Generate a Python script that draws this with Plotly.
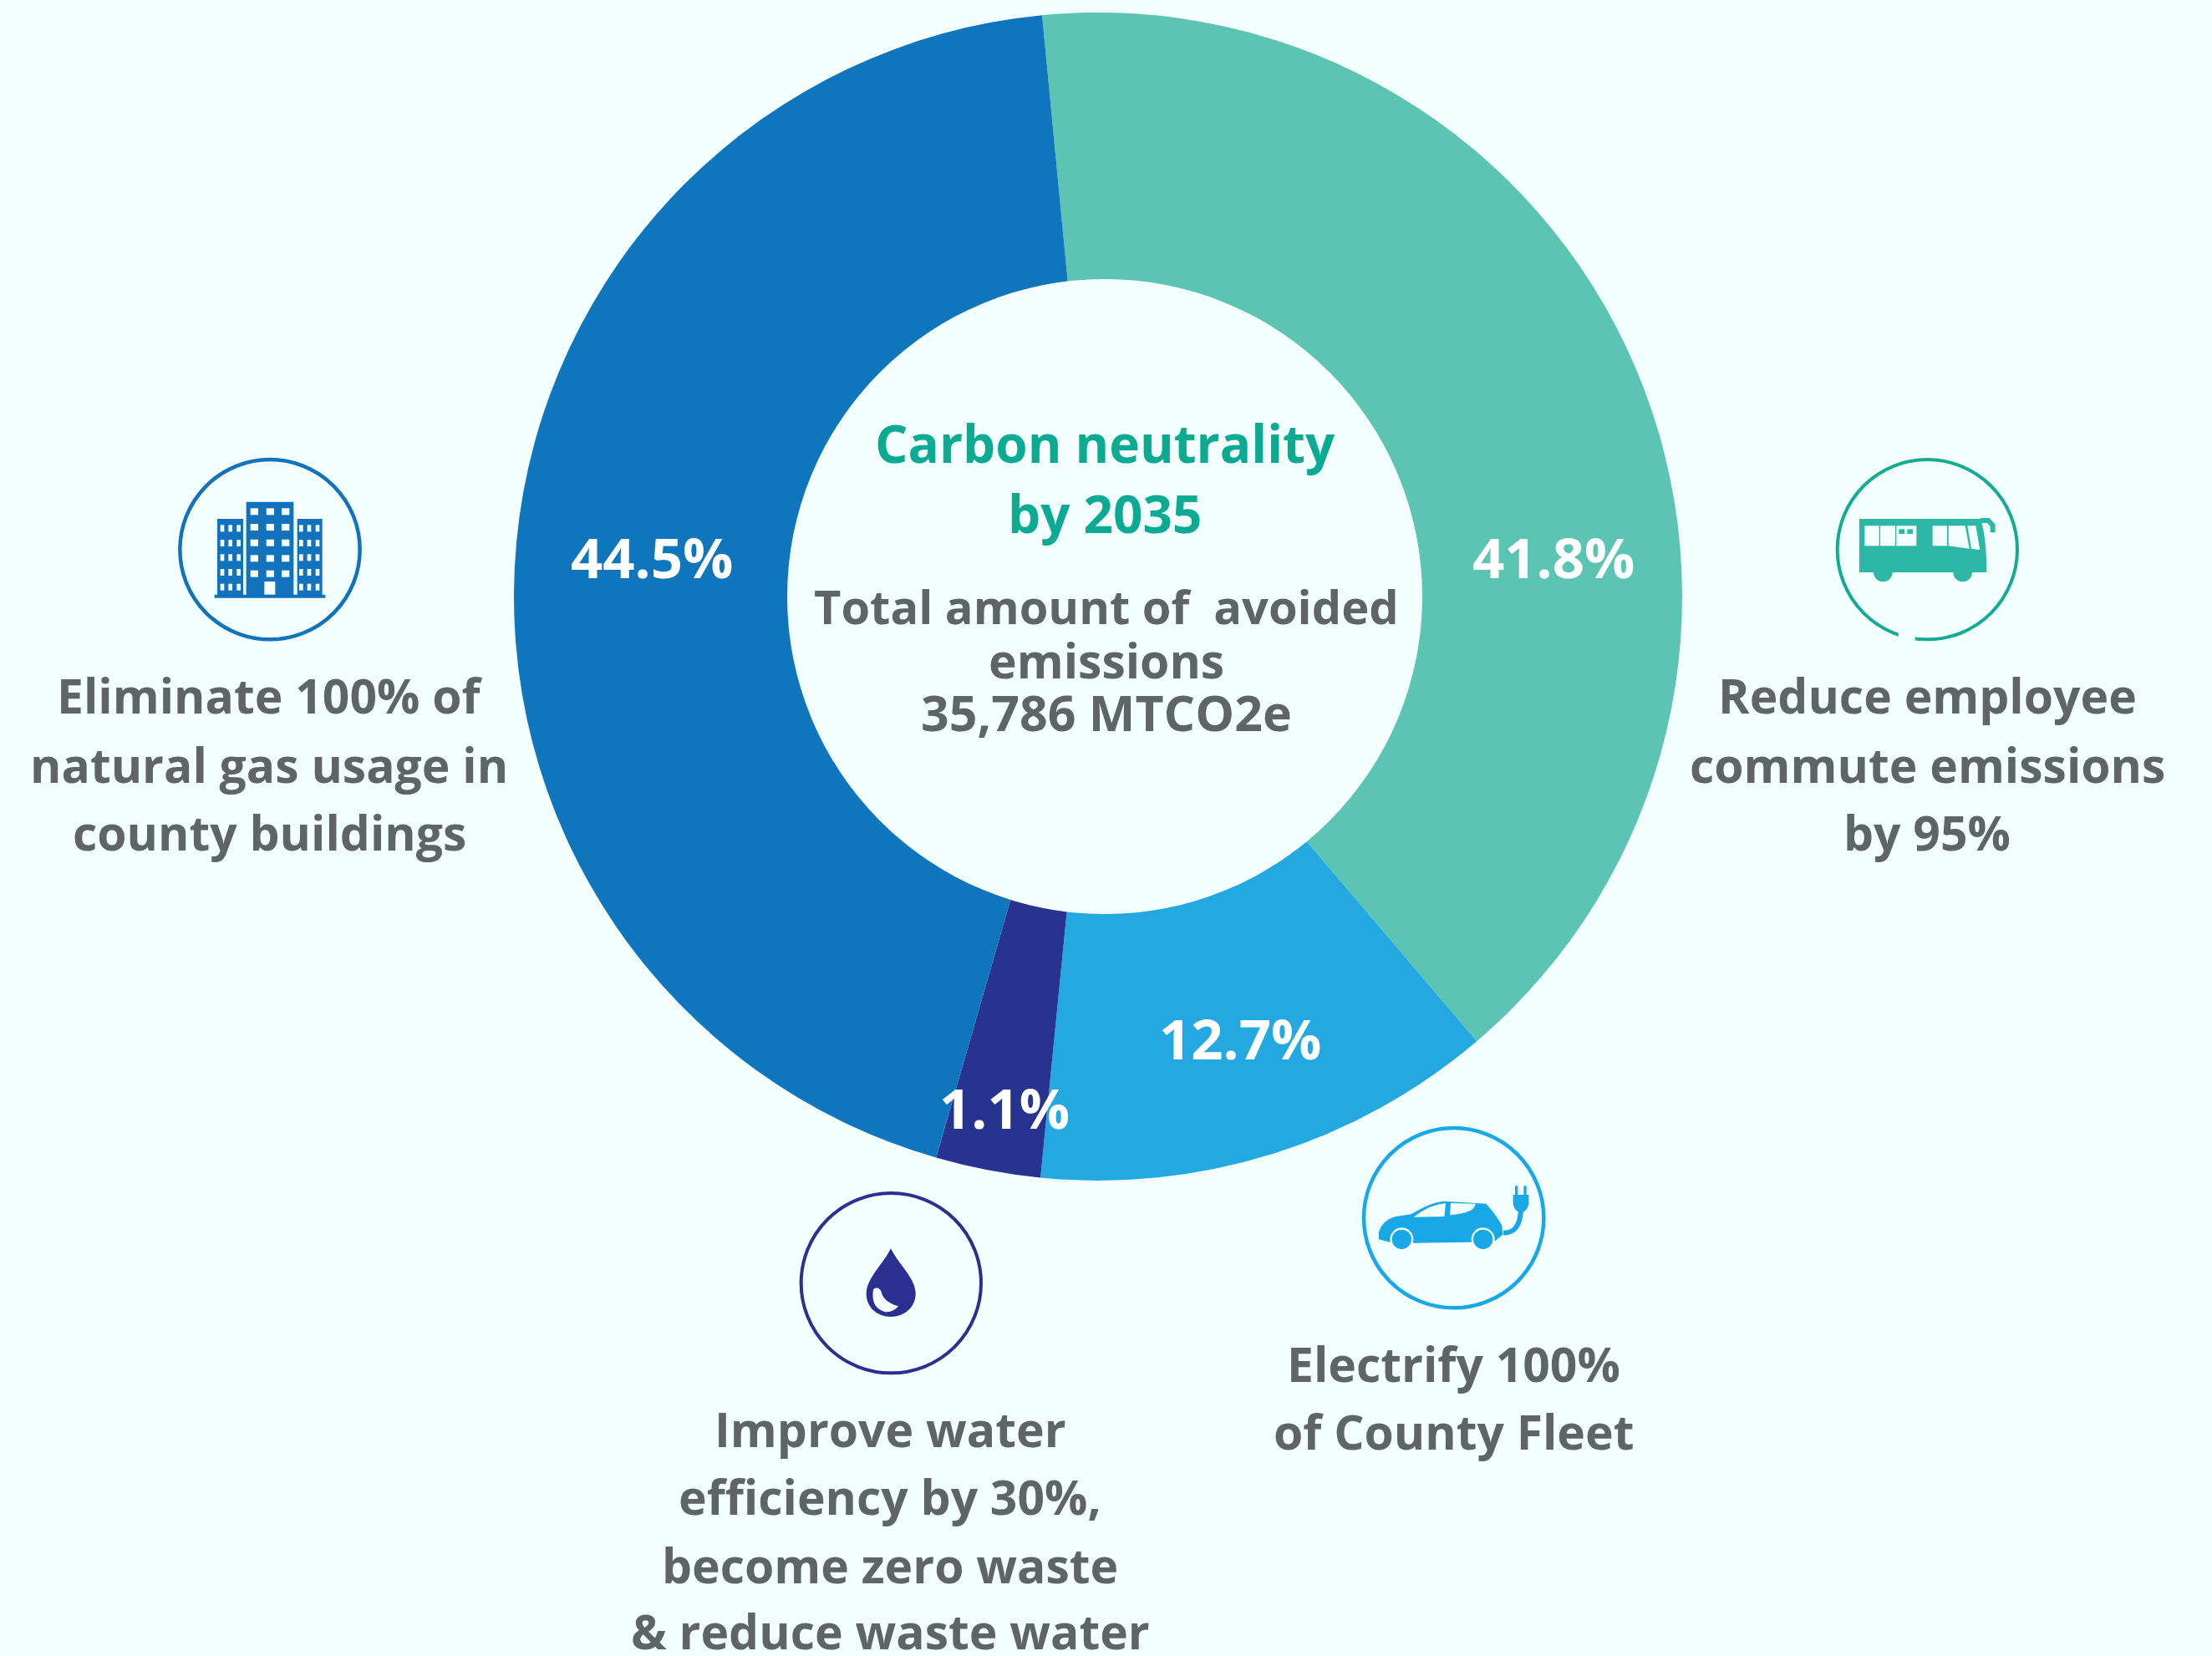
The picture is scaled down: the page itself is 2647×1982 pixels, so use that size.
import plotly.graph_objects as go

W, H = 2647, 1982
BG = "#F3FFFE"
GREY = "#5F6466"

categories = ["Reduce employee commute emissions", "Electrify County Fleet",
              "Water, waste and waste water", "Natural gas in county buildings"]
# shares as the wedges are actually drawn in the picture
drawn_shares = [40.3, 12.8, 2.9, 44.0]
printed_labels = ["41.8%", "12.7%", "1.1%", "44.5%"]
slice_colors = ["#5CC4B2", "#23A8E2", "#27338F", "#0F75BC"]

label_xy = [(1859, 666), (1484, 1242), (1202, 1325), (780, 666)]

left_lines = ["Eliminate 100% of", "natural gas usage in", "county buildings"]
right_lines = ["Reduce employee", "commute emissions", "by 95%"]
car_lines = ["Electrify 100%", "of County Fleet"]
drop_lines = ["Improve water", "efficiency by 30%,", "become zero waste", "& reduce waste water"]
title_lines = ["Carbon neutrality", "by 2035"]
total_lines = ["Total amount of\u00a0 avoided", "emissions", "35,786 MTCO2e"]

FONT = "Open Sans"
TXT = 57


def fx(x):
    return x / W


def fy(y):
    return 1 - y / H


shapes = []
annotations = []


def text(s, x, y, size=TXT, color=GREY):
    annotations.append(dict(
        text=f"<b>{s}</b>", x=fx(x), y=fy(y), xref="paper", yref="paper",
        xanchor="center", yanchor="middle", showarrow=False,
        font=dict(family=FONT, size=size, color=color)))


class Z:

    def __init__(self, ox, oy):
        self.ox, self.oy = ox, oy

    def pt(self, x, y):
        return f"{fx(self.ox + x / 3):.5f},{fy(self.oy + y / 3):.5f}"

    def path(self, cmds, fill=None, line=None, width=0):
        out = []
        for c in cmds:
            pts = " ".join(self.pt(*p) for p in c[1:])
            out.append(c[0] + pts)
        d = dict(type="path", xref="paper", yref="paper", layer="above",
                 path=" ".join(out), line=dict(width=width, color=line or "rgba(0,0,0,0)"))
        if fill:
            d["fillcolor"] = fill
        shapes.append(d)

    def rect(self, x0, y0, x1, y1, fill):
        self.path([("M", (x0, y0)), ("L", (x1, y0)), ("L", (x1, y1)), ("L", (x0, y1)), ("Z",)], fill=fill)

    def circle(self, cx, cy, r, fill=None, line=None, width=0):
        shapes.append(dict(
            type="circle", xref="paper", yref="paper", layer="above",
            x0=fx(self.ox + (cx - r) / 3), x1=fx(self.ox + (cx + r) / 3),
            y0=fy(self.oy + (cy + r) / 3), y1=fy(self.oy + (cy - r) / 3),
            fillcolor=fill or "rgba(0,0,0,0)",
            line=dict(width=width, color=line or "rgba(0,0,0,0)")))


# offset centre disc of the donut
shapes.append(dict(type="circle", xref="paper", yref="paper", layer="above",
                   x0=fx(1322 - 380), x1=fx(1322 + 380), y0=fy(714 + 380), y1=fy(714 - 380),
                   fillcolor=BG, line=dict(width=0)))

# building icon
c = "#1272BB"
z = Z(180, 520)
z.circle(429, 413, 323, line=c, width=4.5)
z.rect(240, 303, 333, 577, c)
z.rect(344, 242, 514, 577, c)
z.rect(527, 303, 617, 577, c)
z.rect(230, 575, 628, 587, c)
for wx in (373, 430, 485):
    for wy in (277, 333, 389, 445, 500):
        z.rect(wx - 14, wy - 12, wx + 14, wy + 12, BG)
z.rect(409, 528, 448, 575, BG)
for wx in (258, 287, 317, 541, 570, 600):
    for wy in (337, 390, 442, 495, 548):
        z.rect(wx - 7, wy - 12, wx + 7, wy + 12, BG)

# bus icon
c, c2 = "#13AB93", "#2DB8A6"
z = Z(2170, 520)
z.circle(409, 413, 323, line=c, width=4)
z.rect(305, 712, 365, 748, BG)
z.path([("M", (165, 303)), ("L", (600, 303)), ("Q", (622, 370), (622, 495)), ("L", (165, 495)), ("Z",)], fill=c2)
z.circle(250, 495, 34, fill=c2)
z.circle(536, 495, 34, fill=c2)
z.rect(184, 328, 236, 400, BG)
z.rect(240, 328, 294, 400, BG)
z.rect(298, 328, 370, 400, BG)
z.rect(307, 340, 327, 357, c2)
z.rect(337, 340, 357, 357, c2)
z.rect(428, 328, 480, 400, BG)
z.path([("M", (485, 328)), ("L", (545, 328)), ("L", (560, 410)), ("L", (485, 400)), ("Z",)], fill=BG)
z.path([("M", (553, 328)), ("L", (583, 328)), ("L", (598, 415)), ("L", (567, 410)), ("Z",)], fill=BG)
z.path([("M", (600, 309)), ("L", (628, 309)), ("L", (644, 326)), ("L", (644, 352))], line=c2, width=6)

# car icon
c = "#18A8E8"
z = Z(1600, 1320)
z.circle(419, 413, 323, line=c, width=4.5)
z.path([("M", (150, 462)), ("Q", (165, 420), (210, 408)), ("L", (265, 400)), ("Q", (340, 355), (385, 353)),
        ("L", (535, 362)), ("Q", (570, 400), (592, 440)), ("L", (595, 473)), ("L", (568, 495)),
        ("L", (480, 500)), ("L", (275, 503)), ("L", (190, 500)), ("L", (150, 490)), ("Z",)], fill=c)
z.path([("M", (275, 410)), ("Q", (330, 365), (390, 360)), ("L", (385, 408)), ("Z",)], fill=BG)
z.path([("M", (408, 360)), ("L", (497, 362)), ("Q", (495, 395), (405, 403)), ("Z",)], fill=BG)
for wx in (232, 524):
    z.circle(wx, 490, 42, fill=BG)
    z.circle(wx, 490, 35, fill=c)
z.path([("M", (597, 466)), ("Q", (655, 470), (660, 385))], line=c, width=6)
z.path([("M", (632, 330)), ("L", (688, 330)), ("L", (688, 365)), ("Q", (680, 392), (660, 392)),
        ("Q", (640, 392), (632, 365)), ("Z",)], fill=c)
z.rect(639, 298, 649, 332, c)
z.rect(670, 298, 680, 332, c)

# water drop icon
c = "#2B2F92"
z = Z(930, 1400)
z.circle(409, 407, 323, line=c, width=4)
z.path([("M", (408, 283)), ("C", (380, 340), (320, 390), (320, 445)), ("C", (320, 495), (360, 528), (408, 528)),
        ("C", (456, 528), (497, 495), (497, 445)), ("C", (497, 390), (436, 340), (408, 283)), ("Z",)], fill=c)
z.path([("M", (345, 430)), ("Q", (360, 415), (373, 435)), ("Q", (380, 475), (435, 490)),
        ("Q", (415, 515), (385, 510)), ("Q", (335, 495), (345, 430)), ("Z",)], fill=BG)

# texts
for s, (x, y) in zip(printed_labels, label_xy):
    text(s, x, y, size=67, color="#FFFFFF")
for s, y in zip(left_lines, (832, 915, 996)):
    text(s, 322, y)
for s, y in zip(right_lines, (832, 915, 996)):
    text(s, 2306, y)
for s, y in zip(car_lines, (1632, 1713)):
    text(s, 1739, y)
for s, y in zip(drop_lines, (1710, 1791, 1873, 1952)):
    text(s, 1065, y)
for s, y in zip(title_lines, (530, 614)):
    text(s, 1322, y, size=62, color="#0BAA92")
for s, sz, y in zip(total_lines, (56, 57, 59), (725, 790, 852)):
    text(s, 1324, y, size=sz)

CX, CY, R = 1314, 714, 699
fig = go.Figure(go.Pie(
    labels=categories, values=drawn_shares, sort=False, direction="clockwise",
    rotation=354.5, hole=370 / R, textinfo="none", showlegend=False,
    marker=dict(colors=slice_colors, line=dict(width=0)),
    domain=dict(x=[fx(CX - R), fx(CX + R)], y=[fy(CY + R), fy(CY - R)]),
))
fig.update_layout(width=W, height=H, margin=dict(l=0, r=0, t=0, b=0),
                  paper_bgcolor=BG, plot_bgcolor=BG, shapes=shapes, annotations=annotations)
fig.write_html("out.html", config=dict(displayModeBar=False), post_script=(
    "document.body.style.margin='0';document.body.style.background='" + BG + "';"
    "document.documentElement.style.overflow='hidden';"))
